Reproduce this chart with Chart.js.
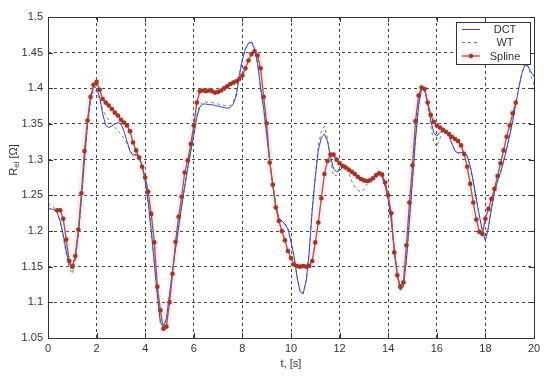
<!DOCTYPE html>
<html>
<head>
<meta charset="utf-8">
<script src="https://cdn.jsdelivr.net/npm/chart.js@4.4.1/dist/chart.umd.min.js"></script>
<style>
  html, body { margin: 0; padding: 0; background: #fff; }
  #wrap { width: 550px; height: 377px; }
</style>
</head>
<body>
<div id="wrap"><canvas id="resChart" width="550" height="377"></canvas></div>
<script>
// sample step of the time axis, s (8 samples per second, 0..20 s)
const STEP = 0.125;
const xTicks = [0, 2, 4, 6, 8, 10, 12, 14, 16, 18, 20];
const yTicks = [1.05, 1.1, 1.15, 1.2, 1.25, 1.3, 1.35, 1.4, 1.45, 1.5];
const seriesNames = ['DCT', 'WT', 'Spline'];

// one row = one second
const dct = [
  1.231, 1.231, 1.230, 1.226, 1.214, 1.195, 1.172, 1.153,
  1.150, 1.165, 1.196, 1.245, 1.300, 1.350, 1.385, 1.403,
  1.400, 1.388, 1.364, 1.348, 1.345, 1.347, 1.350, 1.352,
  1.350, 1.340, 1.326, 1.312, 1.306, 1.308, 1.303, 1.292,
  1.270, 1.240, 1.200, 1.155, 1.110, 1.072, 1.065, 1.078,
  1.110, 1.145, 1.175, 1.205, 1.235, 1.262, 1.288, 1.312,
  1.335, 1.360, 1.374, 1.378, 1.378, 1.377, 1.377, 1.376,
  1.375, 1.374, 1.373, 1.372, 1.373, 1.378, 1.390, 1.418,
  1.440, 1.455, 1.463, 1.465, 1.455, 1.435, 1.400, 1.372,
  1.335, 1.298, 1.265, 1.235, 1.218, 1.214, 1.210, 1.203,
  1.185, 1.165, 1.135, 1.115, 1.112, 1.130, 1.170, 1.230,
  1.275, 1.313, 1.331, 1.336, 1.326, 1.305, 1.287, 1.283,
  1.285, 1.289, 1.288, 1.285, 1.281, 1.278, 1.275, 1.272,
  1.270, 1.268, 1.269, 1.273, 1.277, 1.280, 1.276, 1.263,
  1.245, 1.215, 1.175, 1.138, 1.117, 1.122, 1.160, 1.215,
  1.272, 1.330, 1.375, 1.400, 1.398, 1.380, 1.355, 1.338,
  1.333, 1.338, 1.341, 1.338, 1.333, 1.322, 1.312, 1.309,
  1.310, 1.311, 1.305, 1.291, 1.270, 1.245, 1.222, 1.200,
  1.187, 1.205, 1.232, 1.255, 1.270, 1.282, 1.298, 1.315,
  1.334, 1.355, 1.378, 1.401, 1.421, 1.433, 1.431, 1.423,
  1.417
];

const wt = [
  1.239, 1.236, 1.233, 1.226, 1.212, 1.192, 1.168, 1.148,
  1.140, 1.158, 1.193, 1.243, 1.298, 1.348, 1.382, 1.398,
  1.396, 1.383, 1.370, 1.362, 1.355, 1.350, 1.345, 1.340,
  1.336, 1.330, 1.322, 1.313, 1.306, 1.306, 1.302, 1.291,
  1.270, 1.240, 1.201, 1.156, 1.112, 1.074, 1.066, 1.078,
  1.110, 1.145, 1.176, 1.206, 1.236, 1.263, 1.289, 1.313,
  1.337, 1.362, 1.377, 1.381, 1.381, 1.380, 1.380, 1.379,
  1.378, 1.377, 1.376, 1.375, 1.376, 1.381, 1.393, 1.420,
  1.442, 1.456, 1.464, 1.466, 1.456, 1.435, 1.401, 1.372,
  1.335, 1.298, 1.266, 1.236, 1.219, 1.214, 1.209, 1.202,
  1.184, 1.164, 1.136, 1.116, 1.113, 1.131, 1.172, 1.233,
  1.280, 1.320, 1.340, 1.347, 1.330, 1.300, 1.277, 1.278,
  1.290, 1.296, 1.292, 1.282, 1.270, 1.262, 1.257, 1.255,
  1.258, 1.265, 1.270, 1.274, 1.278, 1.280, 1.276, 1.263,
  1.245, 1.215, 1.175, 1.138, 1.118, 1.123, 1.160, 1.215,
  1.272, 1.330, 1.376, 1.403, 1.400, 1.378, 1.348, 1.325,
  1.318, 1.330, 1.340, 1.341, 1.334, 1.323, 1.313, 1.310,
  1.310, 1.311, 1.305, 1.291, 1.270, 1.245, 1.222, 1.200,
  1.188, 1.205, 1.232, 1.255, 1.270, 1.282, 1.298, 1.315,
  1.334, 1.355, 1.378, 1.401, 1.421, 1.435, 1.432, 1.418,
  1.405
];

const spline = [
  null,  null,  null,  1.229, 1.229, 1.217, 1.188, 1.158,
  1.150, 1.165, 1.202, 1.253, 1.312, 1.355, 1.388, 1.405,
  1.409, 1.398, 1.385, 1.380, 1.376, 1.371, 1.366, 1.362,
  1.356, 1.352, 1.348, 1.340, 1.324, 1.313, 1.303, 1.290,
  1.275, 1.255, 1.224, 1.184, 1.122, 1.089, 1.063, 1.066,
  1.100, 1.140, 1.185, 1.220, 1.248, 1.282, 1.299, 1.322,
  1.348, 1.380, 1.396, 1.397, 1.396, 1.397, 1.396, 1.394,
  1.395, 1.397, 1.400, 1.403, 1.406, 1.408, 1.410, 1.413,
  1.418, 1.428, 1.439, 1.448, 1.452, 1.446, 1.428, 1.388,
  1.351, 1.296, 1.265, 1.233, 1.214, 1.200, 1.187, 1.172,
  1.162, 1.153, 1.151, 1.150, 1.151, 1.150, 1.151, 1.158,
  1.184, 1.212, 1.246, 1.280, 1.298, 1.307, 1.307, 1.300,
  1.295, 1.291, 1.289, 1.286, 1.283, 1.280, 1.276, 1.273,
  1.271, 1.270, 1.271, 1.274, 1.278, 1.281, 1.279, 1.268,
  1.250, 1.225, 1.170, 1.138, 1.122, 1.128, 1.180, 1.240,
  1.292, 1.354, 1.390, 1.401, 1.399, 1.380, 1.363, 1.353,
  1.348, 1.345, 1.342, 1.339, 1.336, 1.332, 1.329, 1.326,
  1.320, 1.308, 1.290, 1.266, 1.240, 1.216, 1.199, 1.196,
  1.217, 1.231, 1.245, 1.259, 1.277, 1.295, 1.313, 1.332,
  1.348, 1.365, 1.380, null,  null,  null,  null,  null,
  null
];

const toPoints = arr => arr.map((v, i) => ({ x: i * STEP, y: v }));

const FONT = '"Liberation Sans", Arial, sans-serif';
const colors = {
    dct: '#3d3de0',
    wt: '#4f9a4f',
    splineLine: '#8a6238',
    splineDot: '#a3361f',
    halo: 'rgba(255, 150, 210, 0.2)',
};

// MATLAB style frame, inward ticks, axis titles and legend
const matlabAxes = {
    id: 'matlabAxes',
    afterDraw(chart) {
        const { ctx, chartArea: a, scales } = chart;
        ctx.save();
        ctx.strokeStyle = '#333';
        ctx.lineWidth = 1;
        ctx.setLineDash([]);
        ctx.strokeRect(a.left + 0.5, a.top + 0.5, a.right - a.left, a.bottom - a.top);

        ctx.beginPath();
        xTicks.forEach(t => {
            const x = Math.round(scales.x.getPixelForValue(t)) + 0.5;
            ctx.moveTo(x, a.bottom); ctx.lineTo(x, a.bottom - 5);
            ctx.moveTo(x, a.top); ctx.lineTo(x, a.top + 5);
        });
        yTicks.forEach(v => {
            const y = Math.round(scales.y.getPixelForValue(v)) + 0.5;
            ctx.moveTo(a.left, y); ctx.lineTo(a.left + 5, y);
            ctx.moveTo(a.right, y); ctx.lineTo(a.right - 5, y);
        });
        ctx.stroke();

        // axis titles
        ctx.fillStyle = '#333';
        ctx.font = '11px ' + FONT;
        ctx.textAlign = 'center';
        ctx.textBaseline = 'middle';
        ctx.fillText('t, [s]', (a.left + a.right) / 2, 364);

        ctx.save();
        ctx.translate(14, 160);
        ctx.rotate(-Math.PI / 2);
        ctx.textAlign = 'left';
        const partR = 'R', partSub = 'el', partRest = ' [Ω]';
        ctx.font = '11px ' + FONT;
        const wR = ctx.measureText(partR).width;
        const wRest = ctx.measureText(partRest).width;
        ctx.font = '8px ' + FONT;
        const wSub = ctx.measureText(partSub).width;
        let x0 = -(wR + wSub + wRest) / 2;
        ctx.font = '11px ' + FONT;
        ctx.fillText(partR, x0, 0);
        ctx.font = '8px ' + FONT;
        ctx.fillText(partSub, x0 + wR, 3);
        ctx.font = '11px ' + FONT;
        ctx.fillText(partRest, x0 + wR + wSub, 0);
        ctx.restore();

        // legend
        const lx = 456, ly = 22, lw = 74, lh = 42;
        ctx.fillStyle = '#fff';
        ctx.fillRect(lx, ly, lw, lh);
        ctx.strokeStyle = '#333';
        ctx.strokeRect(lx + 0.5, ly + 0.5, lw, lh);
        const rows = [ly + 7, ly + 20, ly + 34];
        const sx1 = lx + 6, sx2 = lx + 24;

        ctx.lineWidth = 1;
        ctx.strokeStyle = colors.dct;
        ctx.beginPath(); ctx.moveTo(sx1, rows[0] + 0.5); ctx.lineTo(sx2, rows[0] + 0.5); ctx.stroke();

        ctx.strokeStyle = colors.wt;
        ctx.setLineDash([3, 3]);
        ctx.beginPath(); ctx.moveTo(sx1, rows[1] + 0.5); ctx.lineTo(sx2, rows[1] + 0.5); ctx.stroke();
        ctx.setLineDash([]);

        ctx.strokeStyle = colors.halo;
        ctx.lineWidth = 8;
        ctx.beginPath(); ctx.moveTo(sx1, rows[2]); ctx.lineTo(sx2, rows[2]); ctx.stroke();
        ctx.strokeStyle = colors.splineLine;
        ctx.lineWidth = 1.3;
        ctx.beginPath(); ctx.moveTo(sx1, rows[2]); ctx.lineTo(sx2, rows[2]); ctx.stroke();
        ctx.fillStyle = colors.splineDot;
        ctx.beginPath(); ctx.arc((sx1 + sx2) / 2, rows[2], 2.3, 0, Math.PI * 2); ctx.fill();

        ctx.fillStyle = '#333';
        ctx.font = '11px ' + FONT;
        ctx.textAlign = 'center';
        seriesNames.forEach((name, i) => ctx.fillText(name, lx + 49, rows[i] + 1));
        ctx.restore();
    }
};

const chart = new Chart(document.getElementById('resChart').getContext('2d'), {
    type: 'line',
    data: {
        datasets: [
            {
                label: seriesNames[2],
                data: toPoints(spline),
                borderColor: colors.splineLine,
                borderWidth: 1.3,
                pointRadius: 2.3,
                pointBackgroundColor: colors.splineDot,
                pointBorderWidth: 0,
                tension: 0,
                order: 0,
            },
            {
                label: seriesNames[0],
                data: toPoints(dct),
                borderColor: colors.dct,
                borderWidth: 1,
                pointRadius: 0,
                tension: 0,
                order: 1,
            },
            {
                label: seriesNames[1],
                data: toPoints(wt),
                borderColor: colors.wt,
                borderWidth: 1,
                borderDash: [3, 3],
                pointRadius: 0,
                tension: 0,
                order: 2,
            },
            {
                // pink glow under the spline
                label: 'halo',
                data: toPoints(spline),
                borderColor: colors.halo,
                borderWidth: 7,
                pointRadius: 0,
                tension: 0,
                order: 10,
            },
        ],
    },
    options: {
        responsive: false,
        animation: false,
        devicePixelRatio: 1,
        layout: { padding: { top: 17, right: 16, bottom: 0, left: 0 } },
        plugins: {
            legend: { display: false },
            tooltip: { enabled: false },
        },
        scales: {
            x: {
                type: 'linear',
                min: 0,
                max: 20,
                afterFit: scale => { scale.height = 39; },
                ticks: {
                    stepSize: 2,
                    padding: 4,
                    maxRotation: 0,
                    autoSkip: false,
                    color: '#333',
                    font: { family: FONT, size: 11 },
                },
                grid: { color: '#444', drawTicks: false },
                border: { display: false, dash: [3, 3] },
            },
            y: {
                min: 1.05,
                max: 1.5,
                afterFit: scale => { scale.width = 48; },
                ticks: {
                    stepSize: 0.05,
                    padding: 5,
                    color: '#333',
                    font: { family: FONT, size: 11 },
                    callback: v => String(+v.toFixed(2)),
                },
                grid: { color: '#444', drawTicks: false },
                border: { display: false, dash: [3, 3] },
            },
        },
    },
    plugins: [matlabAxes],
});
</script>
</body>
</html>
